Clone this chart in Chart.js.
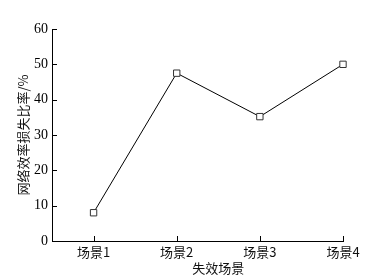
<html>
<head>
    <title>网络效率损失比率</title>
    <script src="https://cdn.jsdelivr.net/npm/chart.js"></script>
</head>
<style>
    body{
        margin: 0;
        background: #fff;
    }
</style>
<body>
<canvas id="chartCanvas" width="374" height="280"></canvas>
</body>

<script>
const categories = ['场景1', '场景2', '场景3', '场景4'];
const lossRatio = [8, 47.5, 35.2, 50];
const yTicks = [0, 10, 20, 30, 40, 50, 60];
const xTitle = '失效场景';
const yTitle = '网络效率损失比率/%';

const numFont = '"Liberation Serif", serif';
const cjkFont = '"Noto Sans CJK SC", sans-serif';

// ticks point into the plot, and the x title sits under the middle of the data
const axisExtras = {
    id: 'axisExtras',
    afterDraw(chart) {
        const ctx = chart.ctx;
        const x = chart.scales.x;
        const y = chart.scales.y;
        const area = chart.chartArea;
        ctx.save();
        ctx.strokeStyle = '#000';
        ctx.lineWidth = 1;
        ctx.beginPath();
        yTicks.forEach(v => {
            if (v === 0) return;
            const py = Math.round(y.getPixelForValue(v)) + 0.5;
            ctx.moveTo(area.left, py);
            ctx.lineTo(area.left + 5, py);
        });
        categories.forEach((c, i) => {
            const px = Math.round(x.getPixelForValue(i + 1)) + 0.5;
            ctx.moveTo(px, area.bottom);
            ctx.lineTo(px, area.bottom - 5);
        });
        ctx.stroke();

        ctx.fillStyle = '#111';
        ctx.font = '13px ' + cjkFont;
        ctx.textAlign = 'center';
        ctx.textBaseline = 'middle';
        ctx.fillText(xTitle, x.getPixelForValue((1 + categories.length) / 2), 268);
        ctx.restore();
    }
};

new Chart(document.getElementById('chartCanvas'), {
    type: 'line',
    data: {
        datasets: [{
            data: categories.map((c, i) => ({ x: i + 1, y: lossRatio[i] })),
            borderColor: '#000',
            borderWidth: 1,
            pointStyle: 'rect',
            pointRadius: 4.5,
            pointBorderColor: '#333',
            pointBackgroundColor: '#fff',
            pointBorderWidth: 1,
            tension: 0,
            clip: false
        }]
    },
    options: {
        responsive: false,
        animation: false,
        events: [],
        layout: {
            autoPadding: false,
            padding: { top: 29, right: 31, left: 0, bottom: 0 }
        },
        plugins: {
            legend: { display: false },
            tooltip: { enabled: false }
        },
        scales: {
            x: {
                type: 'linear',
                min: 0.5,
                max: categories.length,
                afterBuildTicks: s => { s.ticks = categories.map((c, i) => ({ value: i + 1 })); },
                afterFit: s => { s.height = 39; },
                grid: { display: false, drawTicks: false },
                border: { display: true, color: '#000', width: 1 },
                ticks: {
                    padding: 3,
                    color: '#111',
                    font: { family: cjkFont, size: 13 },
                    callback: v => categories[v - 1]
                },
                title: { display: false }
            },
            y: {
                min: 0,
                max: 60,
                afterBuildTicks: s => { s.ticks = yTicks.map(v => ({ value: v })); },
                afterFit: s => { s.width = 52; },
                grid: { display: false, drawTicks: false },
                border: { display: true, color: '#000', width: 1 },
                ticks: {
                    padding: 4,
                    color: '#000',
                    font: { family: numFont, size: 14 }
                },
                title: {
                    display: true,
                    text: yTitle,
                    color: '#111',
                    font: { family: cjkFont, size: 13 },
                    padding: { top: 15, bottom: 0 }
                }
            }
        }
    },
    plugins: [axisExtras]
});
</script>
</html>
